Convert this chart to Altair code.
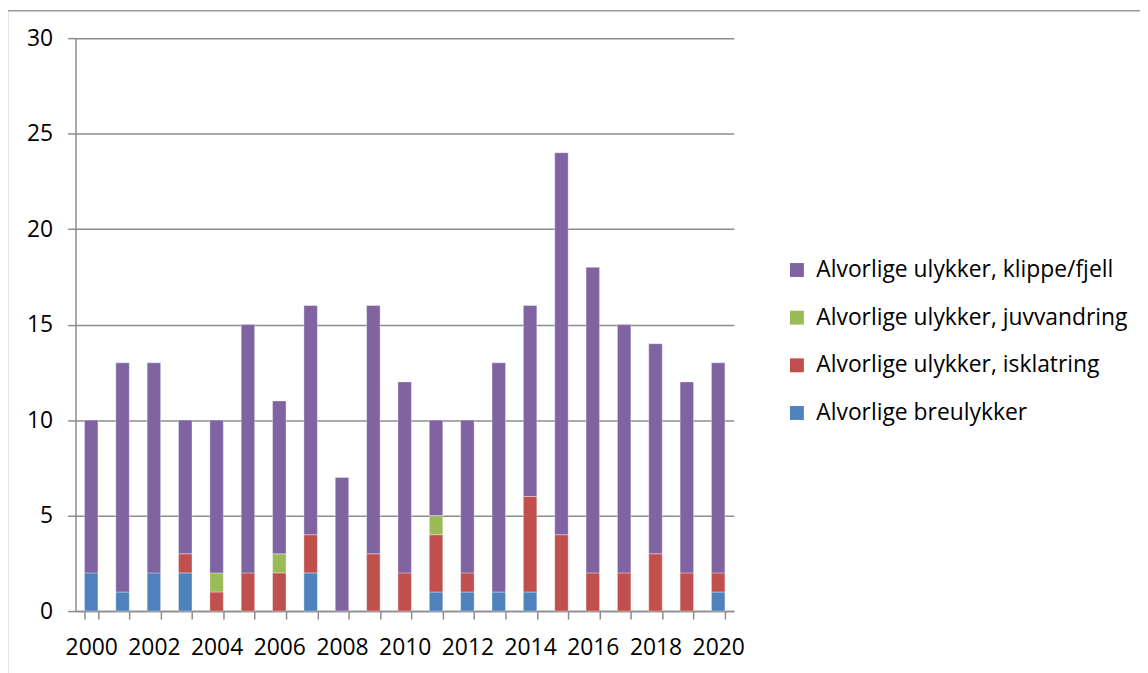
import altair as alt
import pandas as pd

years = list(range(2000, 2021))
series_names = [
    "Alvorlige breulykker",
    "Alvorlige ulykker, isklatring",
    "Alvorlige ulykker, juvvandring",
    "Alvorlige ulykker, klippe/fjell",
]
breulykker = [2, 1, 2, 2, 0, 0, 0, 2, 0, 0, 0, 1, 1, 1, 1, 0, 0, 0, 0, 0, 1]
isklatring = [0, 0, 0, 1, 1, 2, 2, 2, 0, 3, 2, 3, 1, 0, 5, 4, 2, 2, 3, 2, 1]
juvvandring = [0, 0, 0, 0, 1, 0, 1, 0, 0, 0, 0, 1, 0, 0, 0, 0, 0, 0, 0, 0, 0]
klippe_fjell = [8, 12, 11, 7, 8, 13, 8, 12, 7, 13, 10, 5, 8, 12, 10, 20, 16, 13, 11, 10, 11]
colors = ["#4F81BD", "#C0504D", "#9BBB59", "#8064A2"]
y_ticks = [0, 5, 10, 15, 20, 25, 30]

rows = []
for k, (name, vals) in enumerate(zip(series_names, [breulykker, isklatring, juvvandring, klippe_fjell])):
    for yr, v in zip(years, vals):
        if v > 0:
            rows.append({"year": str(yr), "series": name, "value": v, "order": k})
df = pd.DataFrame(rows)

legend_order = series_names[::-1]
legend_colors = colors[::-1]

FONT = "Open Sans"
GRID = "#8c8c8c"

bars = alt.Chart(df).mark_bar(stroke="white", strokeOpacity=0.35, strokeWidth=1).encode(
    x=alt.X(
        "year:N",
        sort=[str(y) for y in years],
        scale=alt.Scale(paddingInner=0.57, paddingOuter=0.285),
        axis=alt.Axis(
            title=None,
            labelAngle=0,
            tickBand="extent",
            tickSize=8,
            tickColor=GRID,
            tickWidth=1.5,
            domainColor=GRID,
            domainWidth=1.5,
            labelExpr="toNumber(datum.value) % 2 == 0 ? datum.label : ''",
            labelFont=FONT,
            labelFontSize=23,
            labelColor="black",
            labelPadding=18,
        ),
    ),
    y=alt.Y(
        "value:Q",
        stack="zero",
        scale=alt.Scale(domain=[0, 30], nice=False),
        axis=alt.Axis(
            title=None,
            values=y_ticks,
            tickSize=8,
            tickColor=GRID,
            tickWidth=1.5,
            domainColor=GRID,
            domainWidth=1.5,
            grid=True,
            gridColor=GRID,
            gridWidth=1.5,
            labelFont=FONT,
            labelFontSize=23,
            labelColor="black",
            labelPadding=15,
        ),
    ),
    color=alt.Color(
        "series:N",
        scale=alt.Scale(domain=legend_order, range=legend_colors),
        legend=alt.Legend(
            title=None,
            orient="none",
            legendX=715,
            legendY=222,
            symbolType="square",
            symbolSize=196,
            symbolStrokeWidth=0,
            symbolOpacity=1,
            labelFont=FONT,
            labelFontSize=23,
            labelColor="black",
            labelOffset=8,
            rowPadding=24,
            labelLimit=0,
        ),
    ),
    order=alt.Order("order:Q", sort="ascending"),
)

frame_top = alt.Chart(pd.DataFrame({"d": [0]})).mark_rule(color="#999999", strokeWidth=1.5).encode(
    x=alt.value(-69), x2=alt.value(1100), y=alt.value(-27.5)
)
frame_left = alt.Chart(pd.DataFrame({"d": [0]})).mark_rule(color="#999999", strokeWidth=1.5).encode(
    x=alt.value(-68.5), y=alt.value(-28), y2=alt.value(700)
)

chart = alt.layer(bars, frame_top, frame_left).properties(
    width=663,
    height=577,
    padding={"left": 68, "top": 28, "right": 409, "bottom": 60},
    autosize=alt.AutoSizeParams(type="none"),
).configure_view(stroke=None)

chart.save("out.html", embed_options={"renderer": "svg", "actions": False})
